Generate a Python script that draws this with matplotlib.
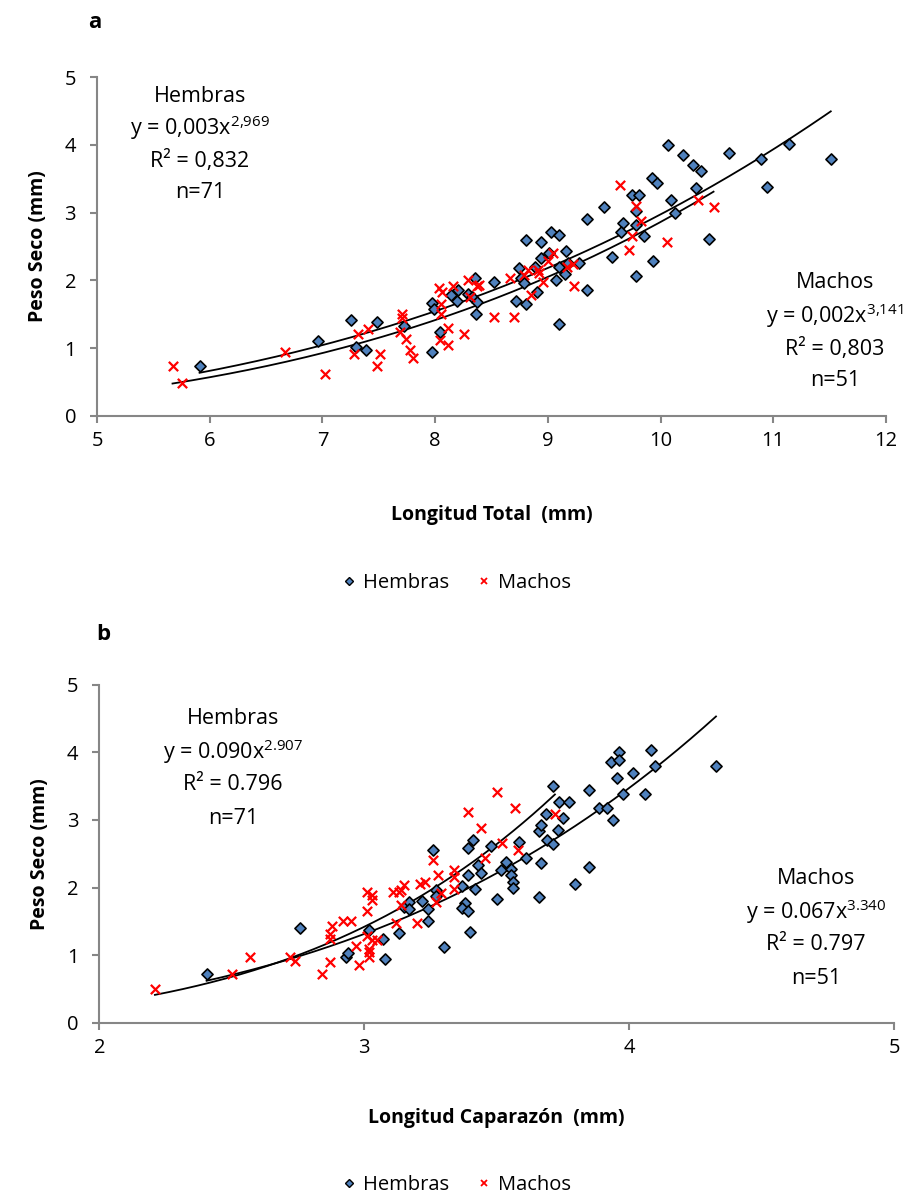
import numpy as np
import matplotlib
matplotlib.use("Agg")
import matplotlib.pyplot as plt
from matplotlib.lines import Line2D

plt.rcParams["font.family"] = ["Open Sans", "DejaVu Sans"]
plt.rcParams["mathtext.fontset"] = "custom"
plt.rcParams["mathtext.rm"] = "Open Sans"
plt.rcParams["mathtext.it"] = "Open Sans"
plt.rcParams["mathtext.bf"] = "Open Sans:bold"

# ---------------- Panel a: Longitud Total ----------------
a_hem_x = [5.91, 6.96, 7.25, 7.30, 7.39, 7.48, 7.72, 7.97, 7.99, 7.97, 8.04, 8.14, 8.19, 8.20,
           8.29, 8.33, 8.35, 8.36, 8.37, 8.52, 8.72, 8.74, 8.76, 8.79, 8.81, 8.81, 8.89, 8.90,
           8.94, 8.94, 9.01, 9.03, 9.07, 9.10, 9.10, 9.10, 9.15, 9.16, 9.18, 9.28, 9.35, 9.35,
           9.50, 9.57, 9.67, 9.65, 9.75, 9.81, 9.78, 9.78, 9.78, 9.85, 9.92, 9.97, 9.93, 10.07,
           10.09, 10.13, 10.20, 10.29, 10.36, 10.31, 10.43, 10.61, 10.89, 10.94, 11.14, 11.51]
a_hem_y = [0.73, 1.11, 1.41, 1.02, 0.97, 1.38, 1.33, 1.67, 1.58, 0.94, 1.23, 1.79, 1.70, 1.85,
           1.80, 1.76, 2.03, 1.50, 1.68, 1.97, 1.70, 2.18, 2.03, 1.96, 2.59, 1.65, 2.20, 1.82,
           2.56, 2.33, 2.40, 2.71, 2.00, 2.67, 1.35, 2.20, 2.09, 2.44, 2.25, 2.26, 2.91, 1.85,
           3.09, 2.35, 2.85, 2.71, 3.26, 3.26, 3.02, 2.82, 2.06, 2.65, 3.51, 3.44, 2.29, 4.00,
           3.18, 3.00, 3.85, 3.70, 3.62, 3.37, 2.61, 3.88, 3.79, 3.38, 4.02, 3.79]
a_mac_x = [5.67, 5.75, 6.67, 7.02, 7.28, 7.32, 7.40, 7.48, 7.51, 7.69, 7.71, 7.71, 7.74, 7.78,
           7.80, 8.03, 8.06, 8.05, 8.05, 8.04, 8.11, 8.11, 8.16, 8.26, 8.29, 8.31, 8.37, 8.39,
           8.52, 8.70, 8.66, 8.79, 8.82, 8.85, 8.91, 8.92, 8.96, 9.00, 9.05, 9.17, 9.22, 9.23,
           9.64, 9.72, 9.75, 9.78, 9.83, 10.06, 10.33, 10.47]
a_mac_y = [0.73, 0.49, 0.94, 0.61, 0.91, 1.21, 1.28, 0.73, 0.91, 1.23, 1.50, 1.45, 1.14, 0.97,
           0.85, 1.88, 1.82, 1.65, 1.50, 1.12, 1.29, 1.05, 1.92, 1.20, 2.00, 1.76, 1.91, 1.93,
           1.46, 1.46, 2.03, 2.08, 2.15, 1.78, 2.15, 2.11, 1.97, 2.28, 2.41, 2.20, 2.24, 1.91,
           3.41, 2.45, 2.66, 3.10, 2.88, 2.56, 3.19, 3.09]

# ---------------- Panel b: Longitud Caparazón ----------------
b_hem_x = [2.405, 2.757, 2.93, 2.94, 3.02, 3.07, 3.08, 3.13, 3.15, 3.17, 3.17, 3.22, 3.24, 3.24,
           3.26, 3.27, 3.27, 3.30, 3.37, 3.38, 3.37, 3.39, 3.40, 3.39, 3.39, 3.41, 3.42, 3.43,
           3.44, 3.479, 3.503, 3.517, 3.535, 3.555, 3.555, 3.561, 3.563, 3.586, 3.61, 3.66,
           3.668, 3.66, 3.668, 3.686, 3.69, 3.714, 3.714, 3.73, 3.736, 3.752, 3.774, 3.796,
           3.849, 3.849, 3.887, 3.918, 3.938, 3.932, 3.962, 3.962, 3.953, 3.976, 4.014, 4.06,
           4.082, 4.098, 4.328]
b_hem_y = [0.73, 1.41, 0.97, 1.03, 1.38, 1.24, 0.95, 1.33, 1.71, 1.79, 1.68, 1.80, 1.68, 1.50,
           2.56, 1.97, 1.87, 1.12, 2.03, 1.77, 1.70, 1.65, 1.35, 2.59, 2.18, 2.70, 1.98, 2.33,
           2.21, 2.62, 1.83, 2.26, 2.38, 2.27, 2.19, 2.09, 2.00, 2.68, 2.44, 1.86,
           2.36, 2.83, 2.92, 3.09, 2.71, 3.50, 2.65, 2.85, 3.26, 3.03, 3.26, 2.06,
           3.44, 2.30, 3.18, 3.17, 3.00, 3.85, 4.00, 3.88, 3.62, 3.38, 3.70, 3.38,
           4.03, 3.79, 3.79]
b_mac_x = [2.21, 2.50, 2.57, 2.72, 2.74, 2.84, 2.87, 2.87, 2.87, 2.88, 2.92, 2.95, 2.97, 2.98,
           3.01, 3.01, 3.01, 3.02, 3.02, 3.02, 3.03, 3.03, 3.03, 3.05, 3.11, 3.13, 3.12, 3.14,
           3.15, 3.14, 3.20, 3.21, 3.23, 3.26, 3.27, 3.28, 3.29, 3.34, 3.34, 3.34, 3.39, 3.44,
           3.457, 3.503, 3.52, 3.57, 3.58, 3.72]
b_mac_y = [0.50, 0.73, 0.97, 0.97, 0.91, 0.73, 1.31, 1.24, 0.90, 1.44, 1.50, 1.50, 1.14, 0.86,
           1.93, 1.65, 1.28, 1.05, 0.97, 1.10, 1.89, 1.82, 1.23, 1.23, 1.93, 1.93, 1.47, 1.97,
           2.04, 1.74, 1.48, 2.06, 2.08, 2.41, 1.79, 2.18, 1.92, 2.26, 1.98, 2.16, 3.11, 2.88,
           2.44, 3.41, 2.66, 3.17, 2.56, 3.09]

HEM_COLOR = "#4F81BD"
MAC_COLOR = "#FF0000"
AX_COLOR = "#868686"


def power_fit(x, y):
    x = np.asarray(x, float)
    y = np.asarray(y, float)
    b, loga = np.polyfit(np.log(x), np.log(y), 1)
    return np.exp(loga), b


def draw_panel(ax, hx, hy, mx, my, xlim, xticks):
    for x, y in ((hx, hy), (mx, my)):
        a, b = power_fit(x, y)
        xs = np.linspace(min(x), max(x), 200)
        ax.plot(xs, a * xs ** b, color="black", lw=1.3, zorder=2)
    ax.scatter(hx, hy, marker="D", s=32, facecolor=HEM_COLOR, edgecolor="black",
               linewidths=1.2, zorder=3)
    ax.scatter(mx, my, marker="x", s=45, color=MAC_COLOR, linewidths=1.6, zorder=4)
    ax.set_xlim(*xlim)
    ax.set_ylim(0, 5)
    ax.set_xticks(xticks)
    ax.set_yticks(range(0, 6))
    for s in ("top", "right"):
        ax.spines[s].set_visible(False)
    for s in ("left", "bottom"):
        ax.spines[s].set_color(AX_COLOR)
        ax.spines[s].set_linewidth(1.5)
    ax.tick_params(axis="both", colors=AX_COLOR, width=1.5, length=5,
                   labelcolor="black", labelsize=14.5, direction="out")
    ax.tick_params(axis="x", pad=6)
    ax.tick_params(axis="y", pad=10)


fig = plt.figure(figsize=(9.23, 12.03), dpi=100)

W, H = 923.0, 1203.0
ax1 = fig.add_axes([97 / W, 1 - 415.7 / H, (886 - 97) / W, 338.5 / H])
ax2 = fig.add_axes([99.3 / W, 1 - 1023 / H, (894 - 99.3) / W, 338.5 / H])

draw_panel(ax1, a_hem_x, a_hem_y, a_mac_x, a_mac_y, (5, 12), range(5, 13))
draw_panel(ax2, b_hem_x, b_hem_y, b_mac_x, b_mac_y, (2, 5), range(2, 6))

ax1.set_xlabel("Longitud Total  (mm)", fontsize=14, fontweight="bold", labelpad=39)
ax1.set_ylabel("Peso Seco (mm)", fontsize=14, fontweight="bold", labelpad=12)
ax2.set_xlabel("Longitud Caparazón  (mm)", fontsize=14, fontweight="bold", labelpad=36)
ax2.set_ylabel("Peso Seco (mm)", fontsize=14, fontweight="bold", labelpad=12)

# Panel letters
fig.text(95 / W, 1 - 22 / H, "a", fontsize=16, fontweight="bold", ha="center", va="center")
fig.text(103 / W, 1 - 635 / H, "b", fontsize=16, fontweight="bold", ha="center", va="center")

TS = 15.5


def label_block(cx, ys, lines):
    for y, t in zip(ys, lines):
        fig.text(cx / W, 1 - y / H, t, fontsize=TS, ha="center", va="center")


label_block(200, [96, 128, 161, 193],
            ["Hembras", r"y = 0,003x$^{2{,}969}$", "R² = 0,832", "n=71"])
label_block(835, [283, 316, 349, 381],
            ["Machos", r"y = 0,002x$^{3{,}141}$", "R² = 0,803", "n=51"])
label_block(233, [719, 752, 785, 818],
            ["Hembras", r"y = 0.090x$^{2.907}$", "R² = 0.796", "n=71"])
label_block(816, [879, 912, 945, 978],
            ["Machos", r"y = 0.067x$^{3.340}$", "R² = 0.797", "n=51"])

handles = [
    Line2D([], [], marker="D", ls="none", ms=4, mfc=HEM_COLOR, mec="black", mew=1.0,
           label="Hembras"),
    Line2D([], [], marker="x", ls="none", ms=5, color=MAC_COLOR, mew=1.3, label="Machos"),
]
for yc in (583, 1185):
    fig.legend(handles=handles, loc="center", bbox_to_anchor=(455 / W, 1 - yc / H),
               ncol=2, frameon=False, fontsize=14.5, handletextpad=0.2, columnspacing=1.2,
               handlelength=1.0)

fig.savefig("out.png", dpi=100)
